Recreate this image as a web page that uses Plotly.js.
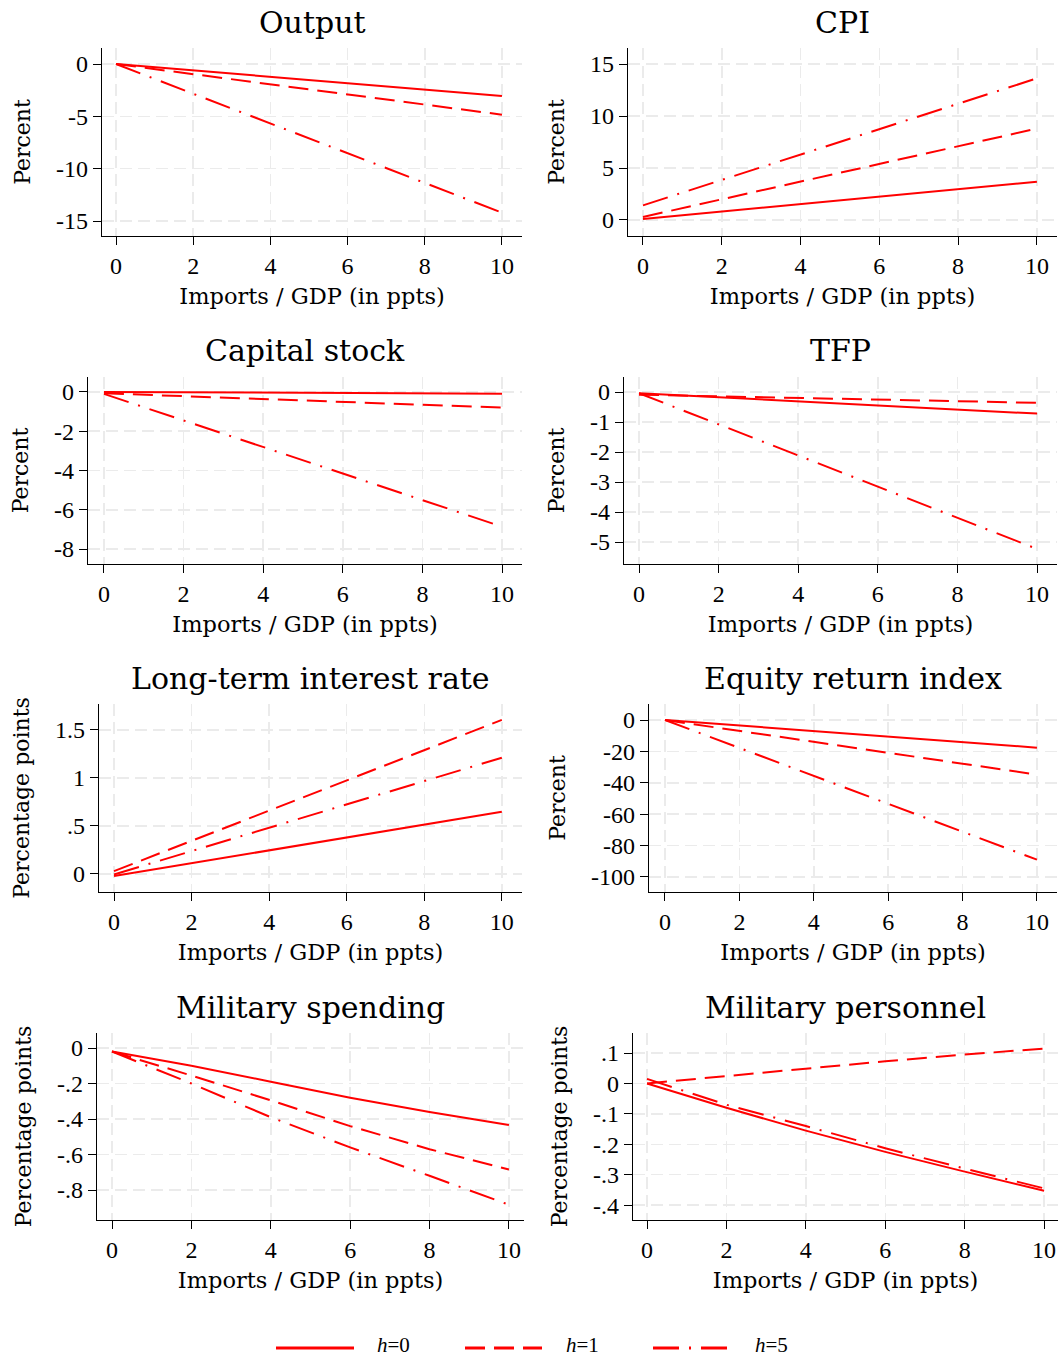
<!DOCTYPE html>
<html>
<head>
<meta charset="utf-8">
<script src="https://cdn.plot.ly/plotly-3.0.1.min.js"></script>
<style>html,body{margin:0;padding:0;background:#fff;}#chart{width:1061px;height:1360px;}</style>
</head>
<body>
<div id="chart"></div>
<script>
// ---- data ----
const seriesNames = ["h=0", "h=1", "h=5"];
const xEnds = [0, 10];
const xPts = [0, 2, 4, 6, 8, 10];

const panelTitles = ["Output", "CPI", "Capital stock", "TFP", "Long-term interest rate", "Equity return index", "Military spending", "Military personnel"];
const yTitles = ["Percent", "Percent", "Percent", "Percent", "Percentage points", "Percent", "Percentage points", "Percentage points"];
const xTitle = "Imports / GDP (in ppts)";
const xTickVals = [0, 2, 4, 6, 8, 10];
const xTickText = ["0", "2", "4", "6", "8", "10"];

const outputH0 = [0, -3.05];
const outputH1 = [0, -4.84];
const outputH5 = [0, -14.2];

const cpiH0 = [0.1, 3.68];
const cpiH1 = [0.29, 8.79];
const cpiH5 = [1.41, 13.62];

const capitalH0 = [0, -0.09];
const capitalH1 = [-0.07, -0.8];
const capitalH5 = [-0.1, -6.86];

const tfpH0 = [-0.04, -0.72];
const tfpH1 = [-0.09, -0.36];
const tfpH5 = [-0.04, -5.23];

const ltirH0 = [-0.024, 0.646];
const ltirH1 = [0.028, 1.604];
const ltirH5 = [-0.007, 1.21];

const equityH0 = [0, -17.6];
const equityH1 = [0, -34.8];
const equityH5 = [0, -89.0];

const milSpendH0 = [-0.02, -0.10, -0.19, -0.28, -0.36, -0.434];
const milSpendH1 = [-0.02, -0.155, -0.295, -0.44, -0.57, -0.685];
const milSpendH5 = [-0.02, -0.20, -0.39, -0.56, -0.72, -0.883];

const milPersH0 = [0, -0.08, -0.155, -0.225, -0.29, -0.353];
const milPersH1 = [0.0, 0.025, 0.05, 0.073, 0.095, 0.115];
const milPersH5 = [0.015, -0.07, -0.14, -0.213, -0.28, -0.345];

const yTickVals = [
  [0, -5, -10, -15],
  [0, 5, 10, 15],
  [0, -2, -4, -6, -8],
  [0, -1, -2, -3, -4, -5],
  [0, 0.5, 1, 1.5],
  [0, -20, -40, -60, -80, -100],
  [0, -0.2, -0.4, -0.6, -0.8],
  [0.1, 0, -0.1, -0.2, -0.3, -0.4]
];
const yTickText = [
  ["0", "-5", "-10", "-15"],
  ["0", "5", "10", "15"],
  ["0", "-2", "-4", "-6", "-8"],
  ["0", "-1", "-2", "-3", "-4", "-5"],
  ["0", ".5", "1", "1.5"],
  ["0", "-20", "-40", "-60", "-80", "-100"],
  ["0", "-.2", "-.4", "-.6", "-.8"],
  [".1", "0", "-.1", "-.2", "-.3", "-.4"]
];

const panelX = [xEnds, xEnds, xEnds, xEnds, xEnds, xEnds, xPts, xPts];
const panelSeries = [
  [outputH0, outputH1, outputH5],
  [cpiH0, cpiH1, cpiH5],
  [capitalH0, capitalH1, capitalH5],
  [tfpH0, tfpH1, tfpH5],
  [ltirH0, ltirH1, ltirH5],
  [equityH0, equityH1, equityH5],
  [milSpendH0, milSpendH1, milSpendH5],
  [milPersH0, milPersH1, milPersH5]
];

// ---- layout geometry (pixels) ----
const W = 1061, H = 1360;
const boxes = [
  [102, 522, 48, 236],
  [628, 1057, 48, 236],
  [88, 522, 377, 564],
  [624, 1057, 377, 564],
  [99, 522, 704, 892],
  [649, 1057, 704, 892],
  [97, 524, 1033, 1220],
  [633, 1058, 1033, 1220]
];
const xRanges = [
  [-0.363, 10.52], [-0.38, 10.51], [-0.40, 10.50], [-0.377, 10.50],
  [-0.387, 10.52], [-0.43, 10.54], [-0.378, 10.38], [-0.353, 10.35]
];
const yRanges = [
  [-16.43, 1.53], [-1.54, 16.54], [-8.76, 0.76], [-5.73, 0.5],
  [-0.19, 1.77], [-109.6, 10.2], [-0.969, 0.0845], [-0.449, 0.166]
];

const RED = "#ff0000";
const dashes = ["solid", "20px,9px", "26px,10px,2px,10px"];
const serifText = "DejaVu Serif";
const serifNum = "Liberation Serif";

const traces = [];
panelSeries.forEach((ser, p) => {
  ser.forEach((ys, s) => {
    traces.push({
      type: "scatter", mode: "lines",
      x: panelX[p], y: ys,
      name: seriesNames[s],
      showlegend: false,
      xaxis: "x" + (p === 0 ? "" : p + 1),
      yaxis: "y" + (p === 0 ? "" : p + 1),
      line: {color: RED, width: 2, dash: dashes[s]},
      hoverinfo: "x+y"
    });
  });
});

const layout = {
  width: W, height: H,
  margin: {l: 0, r: 0, t: 0, b: 0},
  paper_bgcolor: "#fff", plot_bgcolor: "#fff",
  showlegend: false,
  font: {family: serifText, color: "#000"},
  annotations: [], shapes: []
};

const axCommon = {
  showline: true, linecolor: "#000", linewidth: 1.3,
  ticks: "outside", ticklen: 8, tickwidth: 1, tickcolor: "#000",
  showgrid: true, gridcolor: "#ebebeb", gridwidth: 1.5, griddash: "12px,6px",
  zeroline: false, fixedrange: true,
  tickfont: {family: serifNum, size: 24, color: "#000"}
};

boxes.forEach((b, p) => {
  const sfx = p === 0 ? "" : String(p + 1);
  const xd = [b[0] / W, b[1] / W];
  const yd = [1 - b[3] / H, 1 - b[2] / H];
  layout["xaxis" + sfx] = Object.assign({}, axCommon, {
    domain: xd, range: xRanges[p], anchor: "y" + sfx,
    tickmode: "array", tickvals: xTickVals, ticktext: xTickText,
    title: {text: xTitle, font: {family: serifText, size: 22.5, color: "#000"}, standoff: 10}
  });
  layout["yaxis" + sfx] = Object.assign({}, axCommon, {
    domain: yd, range: yRanges[p], anchor: "x" + sfx,
    tickmode: "array", tickvals: yTickVals[p], ticktext: yTickText[p],
    tickangle: 0,
    title: {text: yTitles[p], font: {family: serifText, size: 22, color: "#000"}, standoff: 19}
  });
  layout.annotations.push({
    text: panelTitles[p], xref: "paper", yref: "paper",
    x: (xd[0] + xd[1]) / 2, y: 1 - (b[2] - 26) / H,
    xanchor: "center", yanchor: "middle", showarrow: false,
    font: {family: serifText, size: 30, color: "#000"}
  });
});

// legend drawn at bottom
const legY = 1 - 1348 / H;
const legTextY = 1 - 1345 / H;
const legLines = [[276, 354], [465, 542], [653, 730]];
const legLabelX = [375, 564, 753];
legLines.forEach((l, i) => {
  layout.shapes.push({
    type: "line", xref: "paper", yref: "paper",
    x0: l[0] / W, x1: l[1] / W, y0: legY, y1: legY,
    line: {color: RED, width: 3, dash: dashes[i]}
  });
  layout.annotations.push({
    text: "<i>h</i>=" + seriesNames[i].split("=")[1], xref: "paper", yref: "paper",
    x: legLabelX[i] / W, y: legTextY, xanchor: "left", yanchor: "middle", showarrow: false,
    font: {family: serifNum, size: 21, color: "#000"}
  });
});

Plotly.newPlot("chart", traces, layout, {displayModeBar: false, staticPlot: true});
</script>
</body>
</html>
